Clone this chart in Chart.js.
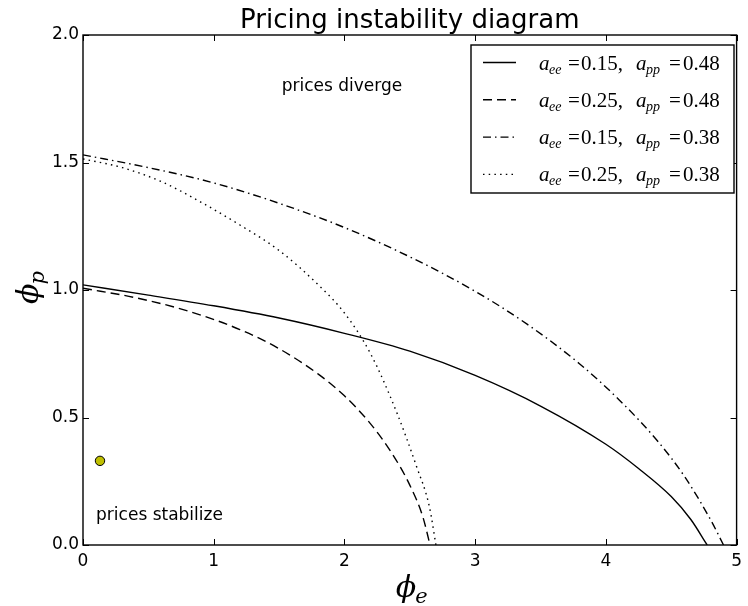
<!DOCTYPE html>
<html>
<head>
<meta charset="utf-8">
<script src="https://cdn.jsdelivr.net/npm/chart.js@4/dist/chart.umd.min.js"></script>
<style>html,body{margin:0;padding:0;background:#fff}</style>
</head>
<body>
<canvas id="chart" width="748" height="606"></canvas>
<script>
// values (phi_e, phi_p)
const aeeValues = [0.15, 0.25, 0.15, 0.25];
const appValues = [0.48, 0.48, 0.38, 0.38];

const solidX = [0, 0.5, 1.0, 1.5, 2.0, 2.5, 3.0, 3.5, 4.0, 4.25, 4.5, 4.65, 4.775];
const solidY = [1.02, 0.98, 0.938, 0.89, 0.83, 0.76, 0.665, 0.545, 0.395, 0.3, 0.19, 0.1, 0];

const dashedX = [0, 0.4, 0.8, 1.2, 1.5, 1.8, 2.0, 2.2, 2.35, 2.5, 2.6, 2.655];
const dashedY = [1.007, 0.97, 0.918, 0.845, 0.77, 0.67, 0.585, 0.475, 0.37, 0.235, 0.11, 0];

const dashDotX = [0, 0.5, 1.0, 1.5, 2.0, 2.5, 3.0, 3.4, 3.8, 4.1, 4.4, 4.6, 4.8, 4.9];
const dashDotY = [1.53, 1.48, 1.42, 1.34, 1.245, 1.13, 0.995, 0.865, 0.71, 0.57, 0.405, 0.27, 0.1, 0];

const dottedX = [0, 0.3, 0.6, 0.9, 1.2, 1.5, 1.8, 2.0, 2.2, 2.4, 2.55, 2.65, 2.7];
const dottedY = [1.514, 1.48, 1.425, 1.345, 1.255, 1.155, 1.02, 0.91, 0.75, 0.52, 0.31, 0.15, 0];

const markerPoint = [{ x: 0.13, y: 0.33 }];

const xTicks = [0, 1, 2, 3, 4, 5];
const yTicks = [0, 0.5, 1.0, 1.5, 2.0];

const notes = [
  { text: 'prices diverge', x: 1.52, y: 1.78 },
  { text: 'prices stabilize', x: 0.1, y: 0.1 }
];

function toPoints(xs, ys) {
  return xs.map((x, i) => ({ x, y: ys[i] }));
}

function curve(xs, ys, dash) {
  return {
    data: toPoints(xs, ys),
    showLine: true,
    borderColor: '#000',
    borderWidth: 1.4,
    borderDash: dash,
    pointRadius: 0,
    cubicInterpolationMode: 'monotone',
    fill: false
  };
}

function drawLine(ctx, x1, y1, x2, y2) {
  ctx.beginPath();
  ctx.moveTo(x1, y1);
  ctx.lineTo(x2, y2);
  ctx.stroke();
}

// phi with a subscript, like matplotlib mathtext
function drawPhi(ctx, sub, x, y) {
  ctx.font = 'italic 30px "DejaVu Serif"';
  ctx.textBaseline = 'alphabetic';
  ctx.textAlign = 'left';
  ctx.fillText('\u03d5', x, y);
  const w = ctx.measureText('\u03d5').width;
  ctx.font = 'italic 21px "DejaVu Serif"';
  ctx.fillText(sub, x + w - 1, y + 6);
}

function drawLegendText(ctx, aee, app, x, y) {
  ctx.textAlign = 'left';
  ctx.textBaseline = 'alphabetic';
  const big = '21px "Liberation Serif"';
  const bigIt = 'italic 21px "Liberation Serif"';
  const small = 'italic 14px "Liberation Serif"';
  const parts = [
    [bigIt, 'a', 0, 0],
    [small, 'ee', 10, 4],
    [big, '=', 29, 0],
    [big, aee.toFixed(2) + ',', 42, 0],
    [bigIt, 'a', 97, 0],
    [small, 'pp', 107, 4],
    [big, '=', 130, 0],
    [big, app.toFixed(2), 144, 0]
  ];
  parts.forEach(([f, t, dx, dy]) => {
    ctx.font = f;
    ctx.fillText(t, x + dx, y + dy);
  });
}

const decorPlugin = {
  id: 'decorPlugin',
  afterDraw(chart) {
    const ctx = chart.ctx;
    const { left, right, top, bottom } = chart.chartArea;
    const xs = chart.scales.x;
    const ys = chart.scales.y;
    ctx.save();
    ctx.fillStyle = '#000';
    ctx.strokeStyle = '#000';

    // ticks point inward, on all four sides
    ctx.lineWidth = 1;
    xTicks.forEach(v => {
      const px = Math.round(xs.getPixelForValue(v)) + 0.5;
      drawLine(ctx, px, bottom, px, bottom - 6);
      drawLine(ctx, px, top, px, top + 6);
    });
    yTicks.forEach(v => {
      const py = Math.round(ys.getPixelForValue(v)) + 0.5;
      drawLine(ctx, left, py, left + 6, py);
      drawLine(ctx, right, py, right - 6, py);
    });

    // frame
    ctx.lineWidth = 1.4;
    ctx.strokeRect(left, top, right - left, bottom - top);

    // notes
    ctx.font = '17px "DejaVu Sans"';
    ctx.textAlign = 'left';
    ctx.textBaseline = 'alphabetic';
    notes.forEach(n => {
      ctx.fillText(n.text, xs.getPixelForValue(n.x), ys.getPixelForValue(n.y));
    });

    // title
    ctx.font = '26px "DejaVu Sans"';
    ctx.textAlign = 'center';
    ctx.fillText('Pricing instability diagram', (left + right) / 2, 28);

    // axis labels
    drawPhi(ctx, 'e', (left + right) / 2 - 14, 597);
    ctx.save();
    ctx.translate(38, ys.getPixelForValue(1.0) + 14);
    ctx.rotate(-Math.PI / 2);
    drawPhi(ctx, 'p', 0, 0);
    ctx.restore();

    // legend
    const lx = 471, ly = 45, lw = 263, lh = 148;
    ctx.fillStyle = '#fff';
    ctx.fillRect(lx, ly, lw, lh);
    ctx.lineWidth = 1.4;
    ctx.strokeStyle = '#000';
    ctx.strokeRect(lx, ly, lw, lh);
    chart.data.datasets.slice(0, 4).forEach((ds, i) => {
      const ry = ly + 17.5 + i * 37.3;
      ctx.save();
      ctx.lineWidth = ds.borderWidth;
      ctx.setLineDash(ds.borderDash);
      drawLine(ctx, lx + 12, ry, lx + 45, ry);
      ctx.restore();
      ctx.fillStyle = '#000';
      drawLegendText(ctx, aeeValues[i], appValues[i], lx + 68, ry + 7);
    });
    ctx.restore();
  }
};

new Chart(document.getElementById('chart'), {
  type: 'scatter',
  data: {
    datasets: [
      curve(solidX, solidY, []),
      curve(dashedX, dashedY, [9, 5]),
      curve(dashDotX, dashDotY, [8, 4, 1.5, 4]),
      curve(dottedX, dottedY, [1.5, 4.2]),
      {
        data: markerPoint,
        pointRadius: 4.7,
        backgroundColor: '#bfbf00',
        borderColor: '#000',
        borderWidth: 1,
        showLine: false
      }
    ]
  },
  options: {
    responsive: false,
    animation: false,
    devicePixelRatio: 1,
    layout: { padding: { top: 35, right: 6, bottom: 0, left: 0 } },
    plugins: {
      legend: { display: false },
      title: { display: false },
      tooltip: { enabled: false }
    },
    scales: {
      x: {
        type: 'linear',
        min: 0,
        max: 5,
        afterBuildTicks: s => { s.ticks = xTicks.map(v => ({ value: v })); },
        afterFit: s => { s.height = 61; },
        grid: { display: false, drawTicks: false },
        border: { display: false },
        ticks: {
          color: '#000',
          padding: 6,
          font: { family: 'DejaVu Sans', size: 17 },
          callback: v => String(v)
        }
      },
      y: {
        type: 'linear',
        min: 0,
        max: 2,
        afterBuildTicks: s => { s.ticks = yTicks.map(v => ({ value: v })); },
        afterFit: s => { s.width = 83; },
        grid: { display: false, drawTicks: false },
        border: { display: false },
        ticks: {
          color: '#000',
          padding: 4,
          font: { family: 'DejaVu Sans', size: 17 },
          callback: v => v.toFixed(1)
        }
      }
    }
  },
  plugins: [decorPlugin]
});
</script>
</body>
</html>
